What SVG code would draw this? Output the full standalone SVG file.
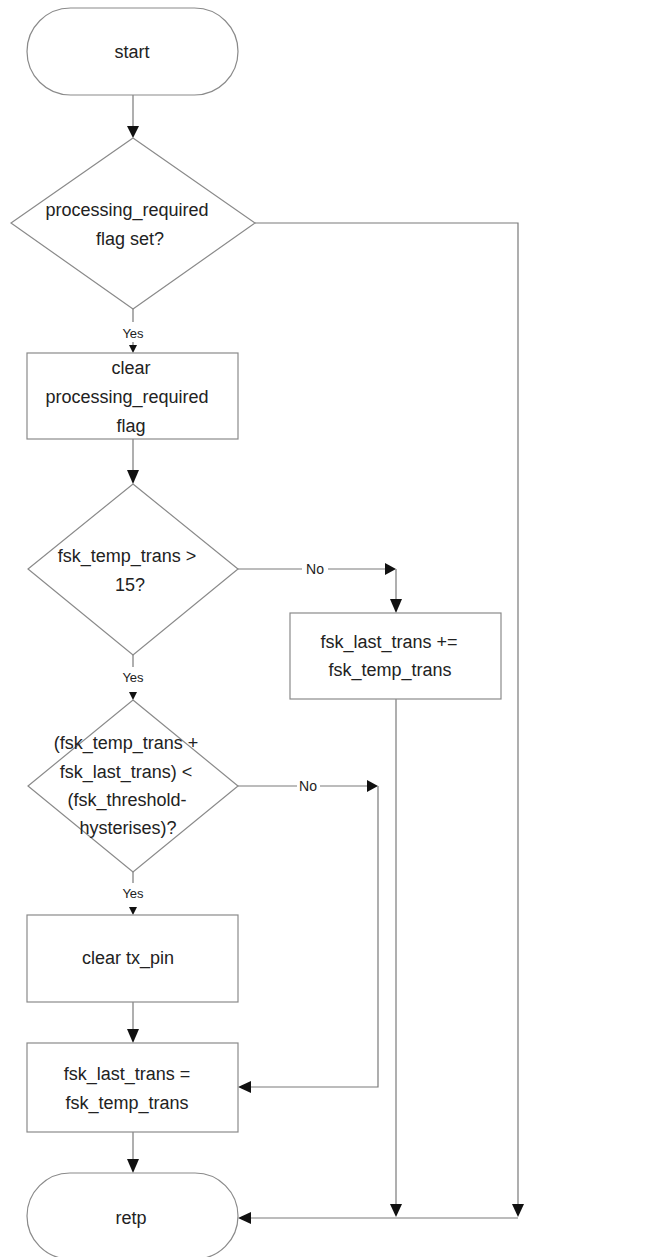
<svg xmlns="http://www.w3.org/2000/svg" width="649" height="1257" viewBox="0 0 649 1257">
<style>
.s{fill:#fff;stroke:#8a8a8a;stroke-width:1.2}
.c{fill:none;stroke:#7a7a7a;stroke-width:1.2}
.t{font-family:"Liberation Sans",Arial,sans-serif;font-size:18px;fill:#222;text-anchor:middle;dominant-baseline:central}
.l{font-family:"Liberation Sans",Arial,sans-serif;font-size:13px;fill:#222;text-anchor:middle;dominant-baseline:central}
.n{font-size:14px}
.a{fill:#111}
</style>
<rect width="649" height="1257" fill="#fff"/>
<g id="connectors">
  <path class="c" d="M133 95V128"/>
  <path class="a" d="M127 126h12l-6 12z"/>
  <path class="c" d="M255 223H518V1207"/>
  <path class="a" d="M512 1204h12l-6 13z"/>
  <path class="c" d="M133 309V322M133 342V346"/>
  <path class="a" d="M129 345h8l-4 8z"/>
  <path class="c" d="M133 439V472"/>
  <path class="a" d="M127 470h12l-6 14z"/>
  <path class="c" d="M238 569H302M328 569H390"/>
  <path class="a" d="M385 563v12l11-6z"/>
  <path class="c" d="M396 569V600"/>
  <path class="a" d="M390 599h12l-6 14z"/>
  <path class="c" d="M396 699V1205"/>
  <path class="a" d="M390 1204h12l-6 13z"/>
  <path class="c" d="M518 1218H250"/>
  <path class="a" d="M251 1212v12l-13-6z"/>
  <path class="c" d="M133 655V667"/>
  <path class="a" d="M129 692h8l-4 8z"/>
  <path class="c" d="M238 786H297M320 786H372"/>
  <path class="a" d="M367 780v12l11-6z"/>
  <path class="c" d="M378 786V1087H250"/>
  <path class="a" d="M251 1081v12l-13-6z"/>
  <path class="c" d="M133 872V883"/>
  <path class="a" d="M129 907h8l-4 8z"/>
  <path class="c" d="M133 1002V1030"/>
  <path class="a" d="M127 1029h12l-6 14z"/>
  <path class="c" d="M133 1132V1160"/>
  <path class="a" d="M127 1159h12l-6 14z"/>
  <text class="l" x="133" y="333">Yes</text>
  <text class="l n" x="315" y="569">No</text>
  <text class="l" x="133" y="677">Yes</text>
  <text class="l n" x="308" y="786">No</text>
  <text class="l" x="133" y="893">Yes</text>
</g>
<g id="start">
  <rect class="s" x="27" y="8" width="211" height="87" rx="43.5"/>
  <text class="t" x="132" y="52">start</text>
</g>
<g id="d1">
  <path class="s" d="M133 138L255 223L133 309L11 223Z"/>
  <text class="t" x="127" y="210">processing_required</text>
  <text class="t" x="130" y="239">flag set?</text>
</g>
<g id="b1">
  <rect class="s" x="27" y="353" width="211" height="86"/>
  <text class="t" x="131" y="368">clear</text>
  <text class="t" x="127" y="397">processing_required</text>
  <text class="t" x="131" y="426">flag</text>
</g>
<g id="d2">
  <path class="s" d="M133 484L238 569L133 655L28 569Z"/>
  <text class="t" x="127" y="556">fsk_temp_trans &gt;</text>
  <text class="t" x="130" y="585">15?</text>
</g>
<g id="b2">
  <rect class="s" x="290" y="613" width="211" height="86"/>
  <text class="t" x="389" y="642">fsk_last_trans +=</text>
  <text class="t" x="390" y="670">fsk_temp_trans</text>
</g>
<g id="d3">
  <path class="s" d="M133 700L238 786L133 872L28 786Z"/>
  <text class="t" x="126" y="743">(fsk_temp_trans +</text>
  <text class="t" x="126" y="772">fsk_last_trans) &lt;</text>
  <text class="t" x="127" y="800">(fsk_threshold-</text>
  <text class="t" x="128" y="828">hysterises)?</text>
</g>
<g id="b3">
  <rect class="s" x="27" y="915" width="211" height="87"/>
  <text class="t" x="128" y="958">clear tx_pin</text>
</g>
<g id="b4">
  <rect class="s" x="27" y="1043" width="211" height="89"/>
  <text class="t" x="127" y="1074">fsk_last_trans =</text>
  <text class="t" x="127" y="1103">fsk_temp_trans</text>
</g>
<g id="retp">
  <rect class="s" x="27" y="1173" width="211" height="86" rx="43"/>
  <text class="t" x="131" y="1218">retp</text>
</g>
</svg>
